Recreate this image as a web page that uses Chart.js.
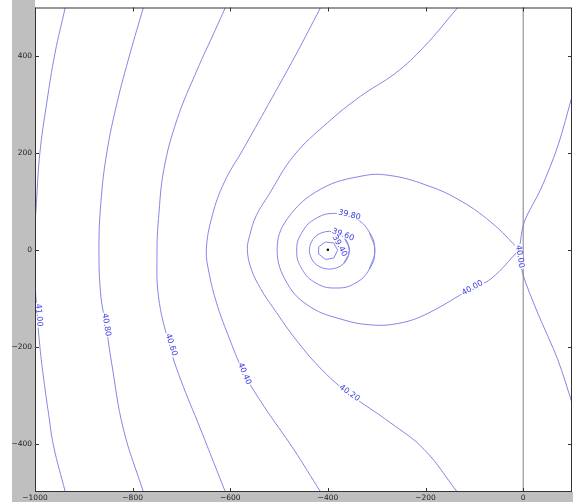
<!DOCTYPE html>
<html>
<head>
<meta charset="utf-8">
<script src="https://cdn.jsdelivr.net/npm/chart.js@4/dist/chart.umd.min.js"></script>
<style>
  html, body { margin: 0; padding: 0; background: #fff; }
  #wrap { position: relative; width: 579px; height: 502px; }
</style>
</head>
<body>
<div id="wrap"><canvas id="contour"></canvas></div>
<script>
// axis ticks
const xTicks = [-1000, -800, -600, -400, -200, 0];
const yTicks = [-400, -200, 0, 200, 400];

// contour lines, [x, y]
const line4100 = [[-938,500],[-959,406],[-976,303],[-990,200],[-997,98],[-1002,0],[-998,-100],[-990,-200],[-982,-268],[-972,-340],[-962,-405],[-938,-500]];
const line4080 = [[-778,500],[-805,406],[-832,303],[-853,200],[-865,98],[-869,0],[-865,-97],[-855,-155],[-843,-234],[-819,-370],[-778,-500]];
const line4060 = [[-610,500],[-631,453],[-668,371],[-709,269],[-736,166],[-747,64],[-750,0],[-747,-97],[-725,-196],[-702,-267],[-661,-370],[-634,-439],[-610,-500]];
const line4040 = [[-415,500],[-467,400],[-522,300],[-575,205],[-612,140],[-637,70],[-649,0],[-643,-50],[-628,-110],[-605,-175],[-571,-256],[-531,-323],[-470,-412],[-415,-500]];
const line4020 = [[-134,500],[-203,419],[-261,365],[-333,317],[-401,262],[-470,194],[-522,112],[-547,70],[-560,30],[-565,0],[-557,-40],[-538,-80],[-512,-120],[-462,-190],[-410,-250],[-358,-296],[-272,-357],[-203,-412],[-135,-500]];
const line4000Loop = [[-8,0],[-66,57],[-135,105],[-203,135],[-271,153],[-326,153],[-415,125],[-483,64],[-504,0],[-483,-70],[-436,-118],[-367,-145],[-313,-155],[-261,-153],[-203,-135],[-104,-79],[-66,-60],[-8,0]];
const line4000Up = [[-8,0],[2,57],[36,125],[71,214],[101,320]];
const line4000Down = [[-8,0],[-1,-49],[30,-131],[71,-227],[101,-319]];
const ring3980 = [[-315,-40],[-304,-2],[-315,36],[-344,65],[-384,75],[-424,65],[-453,36],[-464,-2],[-453,-40],[-424,-69],[-384,-79],[-344,-69],[-315,-40],[-304,-2],[-315,36]];
const ring3960 = [[-368,-29],[-356,-1],[-368,27],[-397,38],[-426,27],[-438,-1],[-426,-29],[-397,-40],[-368,-29],[-356,-1],[-368,27]];
const ring3940 = [[-419,6],[-405,16],[-388,14],[-380,-1],[-388,-17],[-405,-20],[-420,-8],[-419,6]];
const minimum = [[-400, 0]];
const zeroLine = [[0, -500], [0, 500]];

// inline labels: text, line it sits on, x, y
const contourLabels = [
  ["41.00", line4100, -992, -135],
  ["40.80", line4080, -854, -155],
  ["40.60", line4060, -721, -196],
  ["40.40", line4040, -571, -256],
  ["40.20", line4020, -356, -296],
  ["40.00", line4000Loop, -104, -79],
  ["40.00", line4000Down, -7, -14],
  ["39.80", ring3980, -356, 72],
  ["39.60", ring3960, -369, 31],
  ["39.40", ring3940, -376, 8]
];

const lineColor = "#8585ea";
const labelColor = "#3c3ce6";
const frameColor = "#333";

const toPts = arr => arr.map(p => ({ x: p[0], y: p[1] }));

function contourSet(arr, tension) {
  return {
    data: toPts(arr),
    showLine: true,
    borderColor: lineColor,
    borderWidth: 1,
    pointRadius: 0,
    tension: tension
  };
}

const backdrop = {
  id: "backdrop",
  beforeDraw(chart) {
    const { ctx, chartArea: a } = chart;
    ctx.save();
    ctx.fillStyle = "#bfbfbf";
    ctx.fillRect(12, 0, a.left - 12, chart.height);
    ctx.fillRect(12, a.bottom, 573 - 12, chart.height - a.bottom);
    ctx.fillStyle = "#fff";
    ctx.fillRect(a.left, a.top, a.right - a.left, a.bottom - a.top);
    ctx.restore();
  }
};

const inlineLabels = {
  id: "inlineLabels",
  afterDatasetsDraw(chart) {
    const { ctx, scales: { x, y } } = chart;
    ctx.save();
    ctx.font = '8px "DejaVu Sans"';
    ctx.textAlign = "center";
    ctx.textBaseline = "middle";
    contourLabels.forEach(([text, line, lx, ly]) => {
      const px = x.getPixelForValue(lx), py = y.getPixelForValue(ly);
      let best = Infinity, ang = 0;
      for (let i = 0; i < line.length - 1; i++) {
        const ax = x.getPixelForValue(line[i][0]), ay = y.getPixelForValue(line[i][1]);
        const bx = x.getPixelForValue(line[i + 1][0]), by = y.getPixelForValue(line[i + 1][1]);
        const dx = bx - ax, dy = by - ay;
        const len2 = dx * dx + dy * dy || 1;
        let t = ((px - ax) * dx + (py - ay) * dy) / len2;
        t = Math.max(0, Math.min(1, t));
        const qx = ax + t * dx - px, qy = ay + t * dy - py;
        const d = qx * qx + qy * qy;
        if (d < best) { best = d; ang = Math.atan2(dy, dx); }
      }
      if (ang > Math.PI / 2) ang -= Math.PI;
      if (ang < -Math.PI / 2) ang += Math.PI;
      const w = ctx.measureText(text).width;
      ctx.save();
      ctx.translate(px, py);
      ctx.rotate(ang);
      ctx.fillStyle = "#fff";
      ctx.fillRect(-w / 2 - 1, -3, w + 2, 6);
      ctx.fillStyle = labelColor;
      ctx.fillText(text, 0, 0);
      ctx.restore();
    });
    ctx.restore();
  }
};

const frame = {
  id: "frame",
  afterDraw(chart) {
    const { ctx, chartArea: a, scales: { x, y } } = chart;
    ctx.save();
    ctx.strokeStyle = frameColor;
    ctx.lineWidth = 1;
    ctx.strokeRect(a.left + 0.5, a.top + 0.5, a.right - a.left - 1, a.bottom - a.top - 1);
    ctx.beginPath();
    xTicks.forEach(v => {
      const p = Math.round(x.getPixelForValue(v)) + 0.5;
      ctx.moveTo(p, a.bottom); ctx.lineTo(p, a.bottom - 4);
      ctx.moveTo(p, a.top); ctx.lineTo(p, a.top + 4);
    });
    yTicks.forEach(v => {
      const p = Math.round(y.getPixelForValue(v)) + 0.5;
      ctx.moveTo(a.left, p); ctx.lineTo(a.left + 4, p);
      ctx.moveTo(a.right, p); ctx.lineTo(a.right - 4, p);
    });
    ctx.stroke();
    ctx.restore();
  }
};

const minusSign = v => String(v).replace("-", "\u2212");

new Chart(document.getElementById("contour"), {
  type: "scatter",
  data: {
    datasets: [
      { data: toPts(zeroLine), showLine: true, borderColor: "#808080", borderWidth: 1, pointRadius: 0 },
      contourSet(line4100, 0.4),
      contourSet(line4080, 0.4),
      contourSet(line4060, 0.4),
      contourSet(line4040, 0.4),
      contourSet(line4020, 0.4),
      contourSet(line4000Loop, 0.4),
      contourSet(line4000Up, 0.3),
      contourSet(line4000Down, 0.3),
      contourSet(ring3980, 0.45),
      contourSet(ring3960, 0.35),
      contourSet(ring3940, 0),
      { data: toPts(minimum), pointRadius: 1.3, pointBackgroundColor: "#000", pointBorderWidth: 0 }
    ]
  },
  options: {
    responsive: true,
    maintainAspectRatio: false,
    animation: false,
    events: [],
    layout: { padding: { top: 5, right: 7, left: 0, bottom: 0 } },
    plugins: { legend: { display: false }, tooltip: { enabled: false } },
    scales: {
      x: {
        type: "linear",
        min: -1000,
        max: 100,
        afterBuildTicks: s => { s.ticks = xTicks.map(v => ({ value: v })); },
        afterFit: s => { s.height = 10; },
        grid: { display: false, drawTicks: false },
        border: { display: false },
        ticks: {
          padding: 2,
          maxRotation: 0,
          color: "#222",
          font: { family: "DejaVu Sans", size: 7.5 },
          callback: minusSign
        }
      },
      y: {
        type: "linear",
        min: -500,
        max: 500,
        afterBuildTicks: s => { s.ticks = yTicks.map(v => ({ value: v })); },
        afterFit: s => { s.width = 35; },
        grid: { display: false, drawTicks: false },
        border: { display: false },
        ticks: {
          padding: 3,
          color: "#222",
          font: { family: "DejaVu Sans", size: 7.5 },
          callback: minusSign
        }
      }
    }
  },
  plugins: [backdrop, inlineLabels, frame]
});
</script>
</body>
</html>
